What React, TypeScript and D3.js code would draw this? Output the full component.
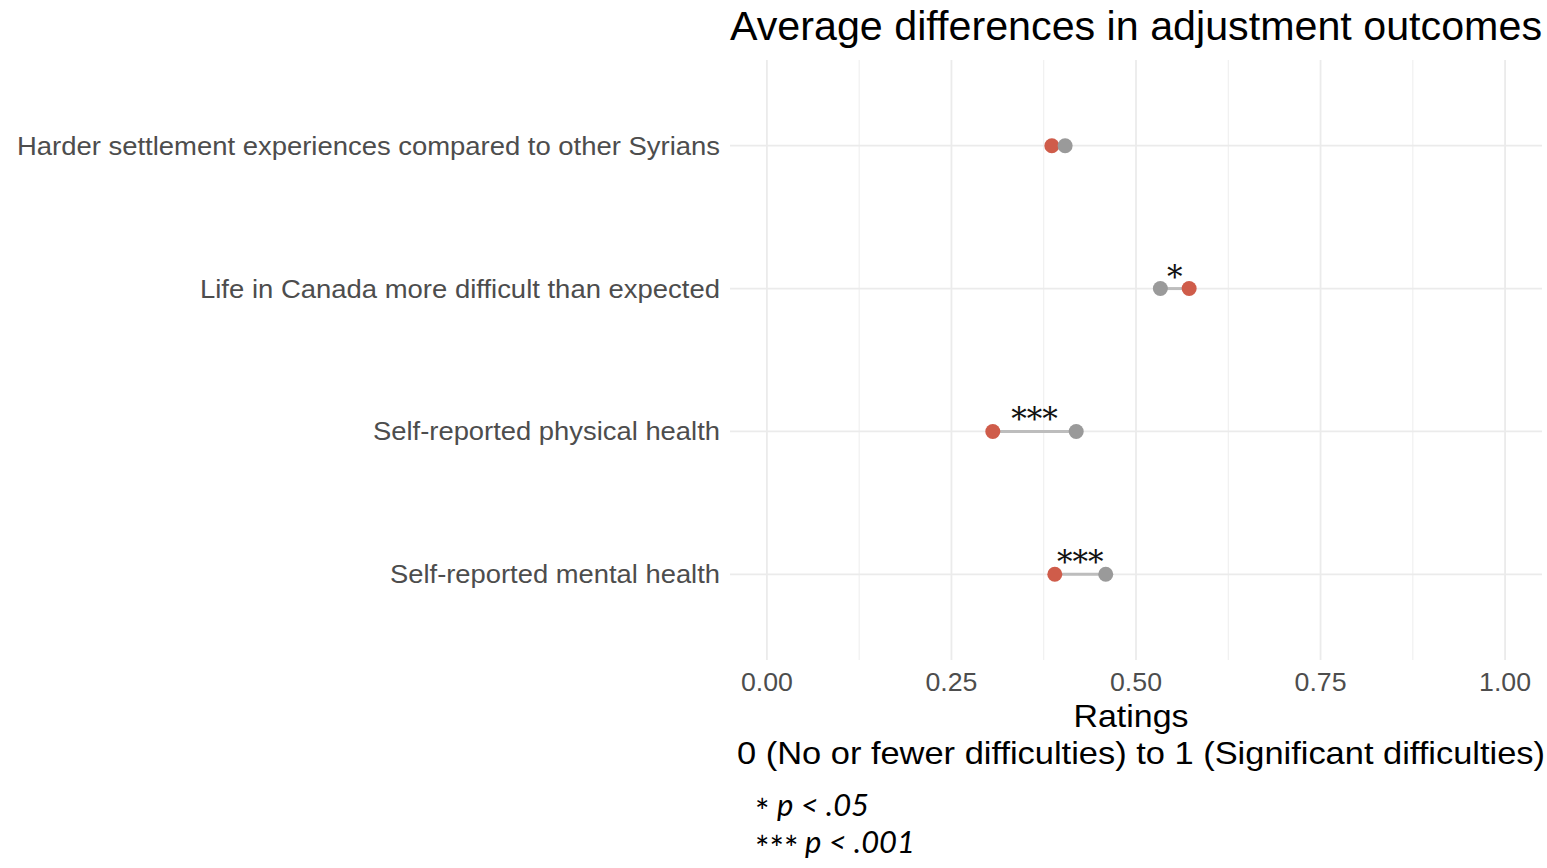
import React from "react";
import * as d3 from "d3";

const categories = [
  "Harder settlement experiences compared to other Syrians",
  "Life in Canada more difficult than expected",
  "Self-reported physical health",
  "Self-reported mental health",
];
const groupA = [0.386, 0.572, 0.306, 0.39]; // red
const groupB = [0.404, 0.533, 0.419, 0.459]; // gray
const sigLabels = ["", "*", "***", "***"];
const xTicks = [0, 0.25, 0.5, 0.75, 1];
const xMinor = [0.125, 0.375, 0.625, 0.875];
const footnotes = [
  { stars: "*", text: "p < .05" },
  { stars: "***", text: "p < .001" },
];

const W = 1547;
const H = 868;
const panel = { left: 730, right: 1542, top: 60, bottom: 660 };

export default function App() {
  const x = d3.scaleLinear().domain([-0.05, 1.05]).range([panel.left, panel.right]);
  const y = d3
    .scalePoint<string>()
    .domain(categories)
    .range([panel.top, panel.bottom])
    .padding(0.6);
  const font = "'Liberation Sans', Arial, Helvetica, sans-serif";
  const red = "#cf5c4a";
  const gray = "#9a9a9a";
  const labelWidths = [703, 520, 347, 330];
  return (
    <svg
      width={W}
      height={H}
      style={{ position: "absolute", left: 0, top: 0, background: "#fff" }}
      fontFamily={font}
    >
      {xMinor.map((t) => (
        <line key={"mn" + t} x1={x(t)} x2={x(t)} y1={panel.top} y2={panel.bottom} stroke="#ebebeb" strokeWidth={0.9} />
      ))}
      {xTicks.map((t) => (
        <line key={"mj" + t} x1={x(t)} x2={x(t)} y1={panel.top} y2={panel.bottom} stroke="#ebebeb" strokeWidth={1.8} />
      ))}
      {categories.map((c) => (
        <line key={"h" + c} x1={panel.left} x2={panel.right} y1={y(c)} y2={y(c)} stroke="#ebebeb" strokeWidth={1.8} />
      ))}
      {categories.map((c, i) => (
        <g key={"d" + c}>
          <line
            x1={x(groupA[i])}
            x2={x(groupB[i])}
            y1={y(c)}
            y2={y(c)}
            stroke="#bdbdbd"
            strokeWidth={3}
          />
          <circle cx={x(groupA[i])} cy={y(c)} r={7.5} fill={red} />
          <circle cx={x(groupB[i])} cy={y(c)} r={7.5} fill={gray} />
          {sigLabels[i] && (
            <text
              x={(x(groupA[i]) + x(groupB[i])) / 2}
              y={y(c)! - 1}
              textAnchor="middle"
              fontSize={31}
              fill="#111"
              fontFamily="'DejaVu Serif', 'Liberation Serif', serif"
            >
              {sigLabels[i]}
            </text>
          )}
          <text
            x={panel.left - 10}
            y={y(c)}
            textAnchor="end"
            dominantBaseline="central"
            fontSize={26}
            fill="#4d4d4d"
            textLength={labelWidths[i]}
            lengthAdjust="spacingAndGlyphs"
          >
            {c}
          </text>
        </g>
      ))}
      {xTicks.map((t) => (
        <text key={"t" + t} x={x(t)} y={691} textAnchor="middle" fontSize={26} fill="#4d4d4d" textLength={52} lengthAdjust="spacingAndGlyphs">
          {t.toFixed(2)}
        </text>
      ))}
      <text x={1131} y={727} textAnchor="middle" fontSize={32} fill="#000" textLength={115} lengthAdjust="spacingAndGlyphs">
        Ratings
      </text>
      <text x={1141} y={764} textAnchor="middle" fontSize={32} fill="#000" textLength={808} lengthAdjust="spacingAndGlyphs">
        0 (No or fewer difficulties) to 1 (Significant difficulties)
      </text>
      <text x={730} y={40} fontSize={40} fill="#000" textLength={812} lengthAdjust="spacingAndGlyphs">
        Average differences in adjustment outcomes
      </text>
      {footnotes.map((f, i) => (
        <g key={"f" + i}>
          <text x={755} y={824 + i * 37} fontSize={34} fill="#000" fontFamily="Lato, 'Open Sans', sans-serif">
            {f.stars}
          </text>
          <text x={755 + (i === 0 ? 22 : 50)} y={816 + i * 37} fontSize={31} fill="#000" fontFamily="Lato, 'Open Sans', sans-serif" fontStyle="italic">
            {f.text}
          </text>
        </g>
      ))}
    </svg>
  );
}
